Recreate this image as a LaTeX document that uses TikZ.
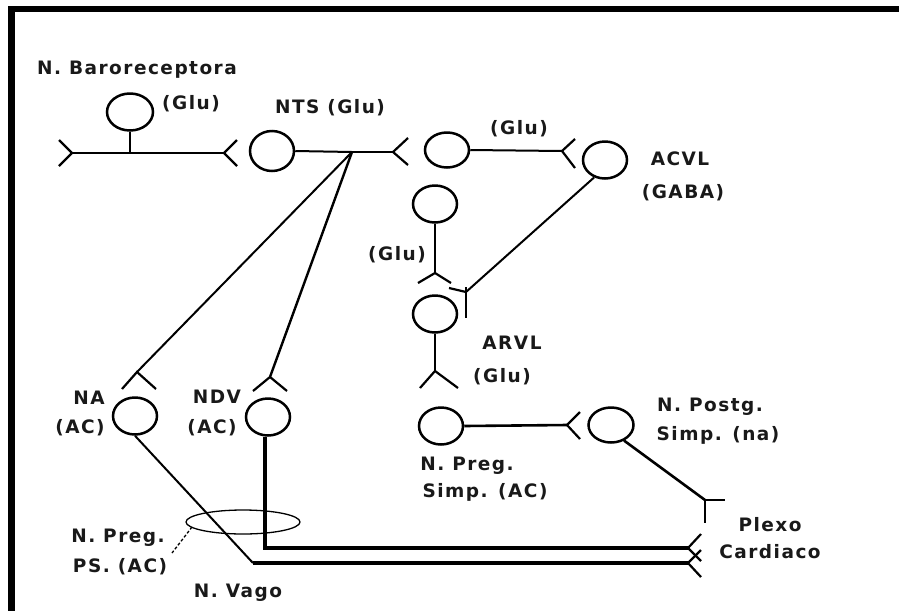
\documentclass[tikz,border=0pt]{standalone}
\usepackage{fontspec}
\newfontfamily\labfont[LetterSpace=8]{DejaVu Sans}
\usetikzlibrary{shapes.geometric}
\tikzset{
  soma/.style={draw, ellipse, minimum width=44pt, minimum height=37pt, inner sep=0pt, line width=2.5pt},
  lbl/.style={font=\labfont\bfseries\fontsize{18.5}{20}\selectfont, inner sep=0pt, text=black!90},
  axon/.style={line width=2.6pt},
  thick axon/.style={line width=3.2pt},
  fine/.style={line width=2pt},
  arm/.style={line width=2.2pt},
}
\begin{document}
\begin{tikzpicture}[x=1pt,y=-1pt]
\useasboundingbox (0,0) rectangle (899,611);
% frame
\fill (8,6) rectangle (899,12);
\fill (8,6) rectangle (15,611);

% somas
\node[soma, minimum width=46pt] (baro) at (130,112) {};
\node[soma, minimum height=40pt] (nts) at (272,151) {};
\node[soma, minimum height=35pt] (glu1) at (447,150) {};
\node[soma] (acvl) at (605,160) {};
\node[soma] (glu2) at (435,204) {};
\node[soma] (arvl) at (435,314) {};
\node[soma] (na) at (135,416) {};
\node[soma] (ndv) at (268,417) {};
\node[soma] (preg) at (441,426) {};
\node[soma, minimum width=45pt, minimum height=35pt] (postg) at (611,425) {};

% labels
\node[lbl] (tbaro) at (137,70) {N. Baroreceptora};
\node[lbl] (tbglu) at (191,104) {(Glu)};
\node[lbl] (tnts) at (330,108) {NTS (Glu)};
\node[lbl] (tglu1) at (519,129) {(Glu)};
\node[lbl] (tacvl) at (680,159) {ACVL};
\node[lbl] (tgaba) at (683,193) {(GABA)};
\node[lbl] (tglu2) at (397,255) {(Glu)};
\node[lbl] (tarvl) at (512,343) {ARVL};
\node[lbl] (targlu) at (502,377) {(Glu)};
\node[lbl] (tna) at (89,398) {NA};
\node[lbl] (tnaac) at (80,428) {(AC)};
\node[lbl] (tndv) at (217,397) {NDV};
\node[lbl] (tndvac) at (212,428) {(AC)};
\node[lbl] (tpostg) at (710,407) {N. Postg.};
\node[lbl] (tpostg2) at (718,435) {Simp. (na)};
\node[lbl] (tpreg) at (467,466) {N. Preg.};
\node[lbl] (tpreg2) at (485,492) {Simp. (AC)};
\node[lbl] (tplexo) at (770,525) {Plexo};
\node[lbl] (tcard) at (770,552) {Cardiaco};
\node[lbl] (tps) at (118,538) {N. Preg.};
\node[lbl] (tps2) at (120,567) {PS. (AC)};
\node[lbl] (tvago) at (238,593) {N. Vago};

% coordinates
\coordinate (bj) at (130,153);
\coordinate (bl) at (72,153);
\coordinate (br) at (224,153);
\coordinate (nj) at (393,152);
\coordinate (nb) at (352,152);
\coordinate (naj) at (137,372);
\coordinate (ndvj) at (270,377);
\coordinate (ndvc) at (265,548);
\coordinate (nac) at (253,563);
\coordinate (p1) at (688,548);
\coordinate (p2) at (688,563);
\coordinate (g1j) at (562,151);
\coordinate (aj) at (466,292);
\coordinate (g2j) at (435,273);
\coordinate (arj) at (435,371);
\coordinate (prj) at (567,425);
\coordinate (poj) at (705,500);
\coordinate (ell) at (243,522);

% baroreceptor
\draw[axon] (baro.south) -- (bj);
\draw[axon] (bl) -- (br);
\draw[arm] (59,140) -- (bl) -- (59,166);
\draw[arm] (237,140) -- (br) -- (237,166);

% NTS
\draw[fine] (nts.east) -- (nb);
\draw[axon] (nb) -- (nj);
\draw[arm] (408,138) -- (nj) -- (408,165);
\draw[fine] (nb) -- (naj);
\draw[line width=2.4pt] (nb) -- (ndvj);
\draw[arm] (122,389) -- (naj) -- (156,389);
\draw[arm] (253,391) -- (ndvj) -- (287,391);

% vagal efferents
\draw[thick axon] (ndv.south -| ndvc) -- (ndvc) -- (p1);
\draw[fine] (na.south) -- (nac);
\draw[thick axon] (nac) -- (p2);
\draw[arm] (701,534) -- (p1) -- (701,561);
\draw[arm] (701,550) -- (p2) -- (701,577);
\draw[line width=1.3pt] (ell) ellipse [x radius=57, y radius=12];
\draw[line width=1.3pt, dashed, dash pattern=on 3pt off 2pt] (192,527) -- (172,553);

% Glu -> ACVL
\draw[fine] (glu1.east) -- (g1j);
\draw[arm] (575,139) -- (g1j) -- (575,168);
% ACVL -> ARVL
\draw[fine] (acvl.-122) -- (aj);
\draw[arm] (466,287) -- (466,318);
\draw[arm] (aj) -- (449,288);
% Glu -> ARVL
\draw[axon] (glu2.south) -- (g2j);
\draw[arm] (418,283) -- (g2j) -- (451,283);
% ARVL
\draw[axon] (arvl.south) -- (arj);
\draw[arm] (420,388) -- (arj) -- (458,388);
% preganglionic sympathetic
\draw[axon] (preg.east) -- (prj);
\draw[arm] (580,412) -- (prj) -- (580,439);
% postganglionic
\draw[axon] (postg.-50) -- (poj);
\draw[arm] (poj) -- (725,500);
\draw[arm] (poj) -- (705,523);
\end{tikzpicture}
\end{document}
